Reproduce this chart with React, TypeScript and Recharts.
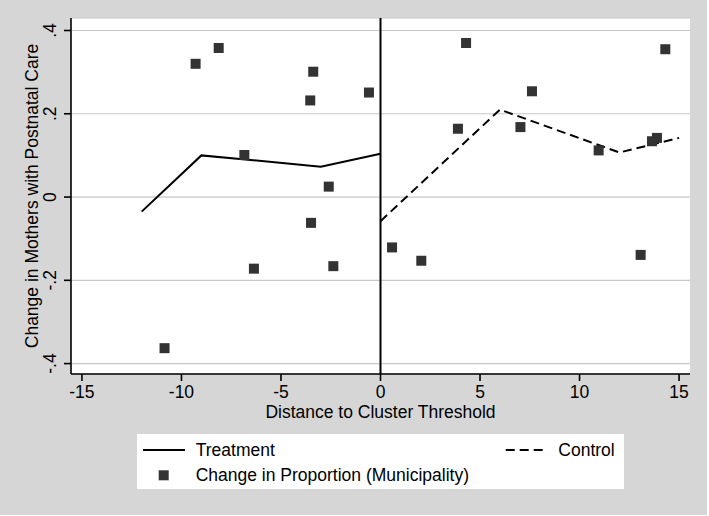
import React from 'react';
import {
  ComposedChart, Line, Scatter, XAxis, YAxis, CartesianGrid, ReferenceLine, Label,
} from 'recharts';

// fitted lines either side of the cutoff
const treatment = [
  { x: -12, y: -0.035 },
  { x: -9, y: 0.1 },
  { x: -3, y: 0.073 },
  { x: 0, y: 0.104 },
];

const control = [
  { x: 0, y: -0.058 },
  { x: 6, y: 0.21 },
  { x: 12, y: 0.107 },
  { x: 15, y: 0.142 },
];

// municipality changes
const municipalities = [
  { x: -10.85, y: -0.363 },
  { x: -9.29, y: 0.32 },
  { x: -8.13, y: 0.358 },
  { x: -6.84, y: 0.101 },
  { x: -6.36, y: -0.172 },
  { x: -3.53, y: 0.232 },
  { x: -3.49, y: -0.062 },
  { x: -3.38, y: 0.301 },
  { x: -2.6, y: 0.025 },
  { x: -2.37, y: -0.166 },
  { x: -0.58, y: 0.251 },
  { x: 0.58, y: -0.121 },
  { x: 2.05, y: -0.153 },
  { x: 3.89, y: 0.164 },
  { x: 4.3, y: 0.37 },
  { x: 7.03, y: 0.168 },
  { x: 7.61, y: 0.254 },
  { x: 10.96, y: 0.112 },
  { x: 13.07, y: -0.139 },
  { x: 13.64, y: 0.134 },
  { x: 13.89, y: 0.142 },
  { x: 14.31, y: 0.355 },
];

const xTicks = [-15, -10, -5, 0, 5, 10, 15];
const yTicks = [-0.4, -0.2, 0, 0.2, 0.4];

const FONT = '"Liberation Sans", Arial, sans-serif';
const FS = 17.5;
const MARK = '#333333';

const fmtY = (v: number) => (v === 0 ? '0' : String(v).replace('0.', '.'));

const YTick = (props: any) => {
  const { x, y, payload } = props;
  return (
    <text
      x={x}
      y={y}
      transform={`rotate(-90, ${x}, ${y})`}
      textAnchor="middle"
      fontFamily={FONT}
      fontSize={FS}
      fill="#000"
    >
      {fmtY(payload.value)}
    </text>
  );
};

const Square = (props: any) => {
  const { cx, cy } = props;
  return <rect x={cx - 5} y={cy - 5} width={10} height={10} fill={MARK} />;
};

const LegendBox = () => (
  <div
    style={{
      position: 'absolute', left: 137, top: 434, width: 487, height: 55, background: '#fff',
    }}
  >
    <svg width={487} height={55} style={{ display: 'block' }}>
      <line x1={6} y1={16} x2={48} y2={16} stroke="#000" strokeWidth={2} />
      <text x={58.7} y={21.7} fontFamily={FONT} fontSize={FS}>Treatment</text>
      <line x1={368.7} y1={16} x2={410.7} y2={16} stroke="#000" strokeWidth={2} strokeDasharray="9 5" />
      <text x={421.3} y={21.7} fontFamily={FONT} fontSize={FS}>Control</text>
      <rect x={21.7} y={36.3} width={10} height={10} fill={MARK} />
      <text x={58.7} y={47} fontFamily={FONT} fontSize={FS}>Change in Proportion (Municipality)</text>
    </svg>
  </div>
);

export default function App() {
  return (
    <div style={{ position: 'absolute', left: 0, top: 0, width: 709, height: 516, background: '#fff' }}>
      <ComposedChart
        width={707}
        height={515}
        margin={{ top: 18, right: 17, bottom: 81, left: 0 }}
        style={{ background: '#d6d6d6' }}
      >
        <CartesianGrid horizontal vertical={false} fill="#fff" stroke="#c8c8c8" strokeWidth={1.2} />
        <XAxis
          type="number"
          dataKey="x"
          domain={[-15.55, 15.55]}
          ticks={xTicks}
          allowDataOverflow
          height={60}
          tickSize={7}
          tickMargin={5}
          stroke="#000"
          strokeWidth={1.6}
          tick={{ fill: '#000', fontSize: FS, fontFamily: FONT }}
        >
          <Label
            content={(p: any) => {
              const vb = p.viewBox;
              return (
                <text x={vb.x + vb.width / 2} y={vb.y + 44} textAnchor="middle" fontFamily={FONT} fontSize={FS} fill="#000">
                  Distance to Cluster Threshold
                </text>
              );
            }}
          />
        </XAxis>
        <YAxis
          type="number"
          dataKey="y"
          domain={[-0.425, 0.43]}
          ticks={yTicks}
          allowDataOverflow
          width={71}
          tickSize={7}
          tickMargin={8}
          stroke="#000"
          strokeWidth={1.6}
          tick={<YTick />}
        >
          <Label
            content={(p: any) => {
              const vb = p.viewBox;
              const cy = vb.y + vb.height / 2;
              return (
                <text x={37.5} y={cy} transform={`rotate(-90, 37.5, ${cy})`} textAnchor="middle" fontFamily={FONT} fontSize={FS} fill="#000">
                  Change in Mothers with Postnatal Care
                </text>
              );
            }}
          />
        </YAxis>
        <ReferenceLine x={0} stroke="#000" strokeWidth={2} />
        <Line data={treatment} dataKey="y" type="linear" stroke="#000" strokeWidth={2} dot={false} isAnimationActive={false} />
        <Line data={control} dataKey="y" type="linear" stroke="#000" strokeWidth={2} strokeDasharray="9 5" dot={false} isAnimationActive={false} />
        <Scatter data={municipalities} dataKey="y" shape={<Square />} isAnimationActive={false} />
      </ComposedChart>
      <LegendBox />
    </div>
  );
}
